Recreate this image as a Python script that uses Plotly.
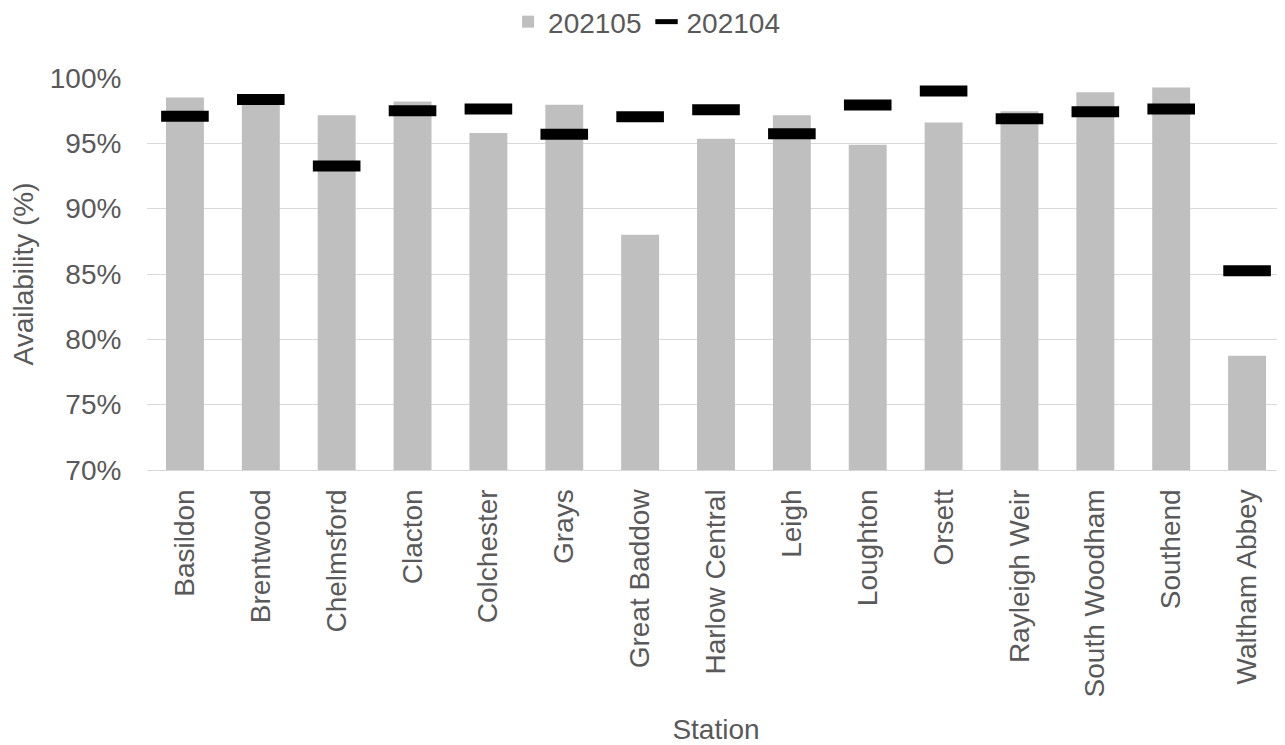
import plotly.graph_objects as go

stations = ["Basildon", "Brentwood", "Chelmsford", "Clacton", "Colchester", "Grays",
            "Great Baddow", "Harlow Central", "Leigh", "Loughton", "Orsett",
            "Rayleigh Weir", "South Woodham", "Southend", "Waltham Abbey"]
avail_202105 = [98.5, 98.2, 97.15, 98.2, 95.8, 97.95, 88.0, 95.35, 97.15, 94.9, 96.6,
                97.45, 98.9, 99.27, 78.75]
avail_202104 = [97.07, 98.35, 93.27, 97.5, 97.62, 95.7, 97.04, 97.57, 95.73, 97.93, 99.0,
                96.88, 97.41, 97.62, 85.25]
y_ticks = [70, 75, 80, 85, 90, 95, 100]
y_tick_labels = ["70%", "75%", "80%", "85%", "90%", "95%", "100%"]

FONT = "Liberation Sans, Arial, sans-serif"
GREY_TXT = "#595959"

fig = go.Figure()
fig.add_trace(go.Bar(
    x=stations, y=avail_202105, name="202105",
    marker=dict(color="#bfbfbf", line=dict(width=0)),
))
fig.add_trace(go.Scatter(
    x=stations, y=avail_202104, name="202104", mode="markers",
    marker=dict(symbol="line-ew", size=34, color="black",
                line=dict(width=11, color="black")),
))

fig.update_layout(
    width=1277, height=737,
    margin=dict(l=139, r=0, t=70, b=275, autoexpand=False),
    paper_bgcolor="white", plot_bgcolor="white",
    font=dict(family=FONT, size=28, color=GREY_TXT),
    bargap=0.5,
    showlegend=True,
    legend=dict(orientation="h", x=0.439, xanchor="center",
                y=1.143, yanchor="middle",
                font=dict(size=28, color=GREY_TXT), itemwidth=30,
                traceorder="normal"),
)
fig.update_xaxes(
    type="category", tickangle=-90, range=[-0.5, len(stations) - 0.5],
    showgrid=False, showline=True, linecolor="#d9d9d9", linewidth=1.3,
    ticks="outside", ticklen=7, tickcolor="rgba(0,0,0,0)",
    tickfont=dict(size=28, color=GREY_TXT),
    title=dict(text="Station", font=dict(size=28, color=GREY_TXT), standoff=24),
    automargin=False,
)
fig.update_yaxes(
    range=[70, 100], tickvals=y_ticks, ticktext=y_tick_labels,
    showgrid=True, gridcolor="#d9d9d9", gridwidth=1.3,
    zeroline=False, showline=False,
    ticks="outside", ticklen=19, tickcolor="rgba(0,0,0,0)",
    tickfont=dict(size=28, color=GREY_TXT),
    title=dict(text="Availability (%)", font=dict(size=28, color=GREY_TXT), standoff=10),
    automargin=False,
)

fig.write_html("out.html")
